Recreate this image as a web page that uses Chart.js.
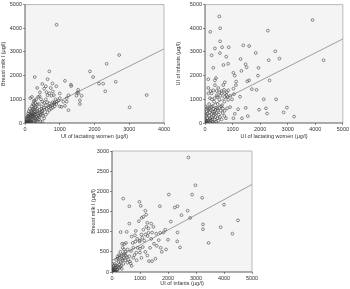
<!DOCTYPE html>
<html>
<head>
<meta charset="utf-8">
<script src="https://cdn.jsdelivr.net/npm/chart.js@4"></script>
<style>
  body { margin: 0; background: #fff; width: 350px; height: 289px; position: relative; overflow: hidden; }
  .box { position: absolute; }
</style>
</head>
<body>
<div class="box" style="left:0;top:0;width:175px;height:145px"><canvas id="c1"></canvas></div>
<div class="box" style="left:175px;top:0;width:175px;height:145px"><canvas id="c2"></canvas></div>
<div class="box" style="left:90px;top:145px;width:175px;height:144px"><canvas id="c3"></canvas></div>
<script>
// breast milk iodine vs UI of lactating women
var milkVsWomen = [
  [910,4150],[2710,2870],[2350,2500],[700,2180],[1870,2180],[1960,1940],[280,1940],[1150,1780],[650,1850],
  [2610,1740],[2130,1660],[2250,1660],[2310,1340],[3010,660],[3500,1180],[1580,960],[1250,540],[1580,800],
  [1330,1560],[1320,1620],[1530,1400],[1500,1280],[1480,1150],[1630,1150],[1540,1260],[1200,1050],[1250,1170],
  [1000,1250],[900,1550],[790,1670],[800,1330],[830,1180],[600,1550],[500,1650],[350,1480],[430,1300],
  [420,1130],[380,1100],[550,1450],[620,1300],[700,1250],[740,1480],[650,1170],[760,1150],[880,1000],
  [920,900],[960,950],[800,880],[850,870],[700,830],[1000,700],[1050,680],[1150,720],[1100,900],[1000,1050],
  [1200,900],[600,750],[540,650],[480,700],[420,560],[350,600],[300,650],[250,750],[220,600],[200,1100],
  [150,1050],[250,920],[300,850],[400,800],[50,50],[80,100],[100,150],[120,80],[150,200],[180,300],[200,250],
  [220,350],[250,400],[270,300],[300,350],[320,450],[350,500],[380,400],[400,300],[250,200],[200,150],
  [150,100],[100,300],[130,400],[180,500],[230,550],[280,500],[330,250],[360,200],[400,150],[420,250],
  [450,350],[480,450],[500,400],[520,300],[550,200],[600,350],[650,450],[700,550],[750,600],[800,650],
  [850,700],[900,800],[60,20],[30,40],[90,60],[110,30],[140,50],[170,120],[20,10],[40,80],[70,180],
  [120,250],[160,350],[210,450],[260,580],[310,700],[350,780],[60,250],[90,400],[110,500],[140,600],
  [200,700],[230,800],[280,950],[320,1000],[80,300],[50,150],[180,50],[260,100],[330,120],[440,80],
  [500,60],[150,0],[100,0],[200,20],[250,30],[300,80],[350,60],[50,0],[10,0],[30,5],[500,500],[560,560],
  [620,600],[680,680],[720,720],[780,760],[840,820],[500,900],[460,1000],[600,1000],[550,850],[640,870],
  [230,300],[280,380],[190,420],[160,250],[140,320],[260,250],[300,200],[380,320],[430,420],[470,600]
];
var lineMilkWomen = [[0, 200], [4000, 3130]];

// UI of infants vs UI of lactating women
var infantsVsWomen = [
  [520,4500],[3900,4350],[190,3850],[550,4000],[2280,3900],[550,3450],[860,3200],[1390,3280],[1600,3250],
  [620,3200],[360,3150],[2550,3030],[1840,2960],[240,2860],[540,2950],[770,2800],[1290,2700],[2310,2650],
  [2700,2720],[4300,2650],[1470,2480],[1510,2350],[1320,2200],[1940,2330],[300,2330],[670,2450],[840,2500],
  [1030,2120],[1080,2000],[1600,1800],[1530,1760],[2340,1800],[1920,2000],[1700,1430],[1870,1400],
  [2130,1000],[2580,1000],[2970,650],[2850,450],[3230,270],[2210,620],[2250,400],[1960,560],[1480,640],
  [1550,290],[1340,200],[1270,1110],[1050,1220],[1030,1450],[1120,1600],[1130,1750],[840,980],[910,670],
  [1080,390],[1030,200],[1200,580],[360,1800],[400,1900],[120,1850],[120,1480],[300,1380],[430,1170],
  [600,1350],[690,1400],[720,1250],[790,1300],[840,1380],[660,1600],[720,1720],[360,1600],[480,1480],
  [240,1250],[180,1050],[330,900],[460,800],[520,1000],[780,1180],[920,1150],[820,1100],[980,1000],
  [700,900],[620,750],[400,650],[280,700],[150,800],[100,650],[60,500],[200,550],[330,480],[420,420],
  [500,350],[560,520],[640,420],[700,300],[760,200],[600,150],[480,100],[350,150],[250,250],[150,300],
  [80,200],[40,100],[20,50],[100,80],[160,150],[220,100],[280,50],[330,0],[200,0],[120,20],[60,30],
  [30,300],[90,400],[170,450],[240,380],[310,320],[380,250],[450,200],[540,250],[160,600],[230,680],
  [300,600],[380,560],[440,620],[520,650],[580,700],[650,600],[710,520],[800,620],[250,1000],[350,1050],
  [440,1100],[560,1150],[600,1250],[700,1100],[120,1250],[200,1350],[420,1350],[520,1300],[50,350],
  [10,150],[130,100],[190,200],[270,150],[70,0],[400,50],[110,550],[280,470],[360,380],[470,520],[20,700]
];
var lineInfantsWomen = [[0, 600], [5000, 3550]];

// breast milk iodine vs UI of infants
var milkVsInfants = [
  [2730,2840],[2980,2150],[2030,1920],[2860,1920],[3220,1840],[400,1820],[980,1740],[1030,1640],[620,1630],
  [1710,1630],[2240,1600],[2340,1630],[2700,1520],[4000,1670],[2480,1410],[2790,1340],[3250,1180],
  [3250,1060],[3880,1110],[4500,1280],[4300,950],[3450,720],[2340,980],[2330,760],[2430,610],[1930,560],
  [1780,500],[1740,600],[1550,330],[1320,270],[1430,270],[1260,410],[1190,500],[1000,480],[1050,350],
  [880,290],[670,210],[620,390],[1300,1080],[1480,1120],[1260,1220],[1060,1340],[1120,1370],[1190,1520],
  [1220,1420],[960,1260],[1300,970],[1430,980],[1580,950],[1720,970],[1670,790],[1840,980],[1270,890],
  [1190,930],[1050,930],[980,760],[820,910],[830,750],[740,720],[500,720],[620,1200],[310,990],[360,700],
  [430,690],[525,995],[330,410],[400,430],[450,455],[360,330],[310,250],[380,290],[470,290],[525,370],
  [550,230],[240,250],[170,125],[110,65],[50,35],[25,15],[70,50],[140,165],[215,330],[100,20],[60,10],
  [30,60],[10,5],[80,90],[120,110],[150,40],[40,100],[0,30],[20,80],[90,0],[130,0],[180,60],[200,150],
  [260,180],[300,120],[350,80],[270,350],[420,350],[500,400],[580,300],[640,260],[700,150],[760,350],
  [800,420],[870,480],[920,600],[1000,580],[1100,620],[1150,780],[1080,850],[900,820],[760,600],
  [680,520],[560,560],[480,500],[430,560],[380,600],[300,500],[250,420],[200,380],[150,300],[100,200],
  [60,150],[20,200],[200,60],[250,100],[330,160],[400,200],[1400,820],[1500,700],[1360,600],[1600,650],
  [2000,800],[2100,1250],[1900,1050],[1000,780],[1120,1050],[1230,1120],[850,1020],[700,880],[1400,1200]
];
var lineMilkInfants = [[0, 290], [5000, 2170]];

var thousands = [0, 1000, 2000, 3000, 4000, 5000];

function toPts(arr) {
  return arr.map(function (p) { return { x: p[0], y: p[1] }; });
}

var framePlugin = {
  id: 'frame',
  beforeDraw: function (chart) {
    var a = chart.chartArea, ctx = chart.ctx;
    ctx.save();
    ctx.fillStyle = '#f4f4f4';
    ctx.fillRect(a.left, a.top, a.right - a.left, a.bottom - a.top);
    ctx.restore();
  },
  afterDraw: function (chart) {
    var a = chart.chartArea, ctx = chart.ctx;
    ctx.save();
    ctx.lineWidth = 0.8;
    ctx.strokeStyle = '#aaa';
    ctx.beginPath();
    ctx.moveTo(a.left, a.top); ctx.lineTo(a.right, a.top); ctx.lineTo(a.right, a.bottom);
    ctx.stroke();
    ctx.strokeStyle = '#333';
    ctx.beginPath();
    ctx.moveTo(a.left, a.top); ctx.lineTo(a.left, a.bottom); ctx.lineTo(a.right, a.bottom);
    ctx.stroke();
    ctx.restore();
  }
};

function plain(v) { return String(v); }

function makeChart(id, pts, line, xMax, yMax, yStep, xTitle, yTitle, yWidth, xHeight, pad) {
  var font = { family: 'Liberation Sans, Arial, sans-serif', size: 5.5 };
  return new Chart(document.getElementById(id), {
    type: 'scatter',
    data: {
      datasets: [{
        data: toPts(pts),
        pointRadius: 1.4,
        pointBorderWidth: 0.6,
        pointBorderColor: '#444',
        pointBackgroundColor: 'rgba(0,0,0,0)'
      }, {
        type: 'line',
        data: toPts(line),
        borderColor: '#888',
        borderWidth: 0.8,
        pointRadius: 0,
        fill: false
      }]
    },
    options: {
      responsive: true,
      maintainAspectRatio: false,
      animation: false,
      layout: { padding: pad },
      plugins: { legend: { display: false }, tooltip: { enabled: false } },
      scales: {
        x: {
          type: 'linear', min: 0, max: xMax,
          afterBuildTicks: function (s) {
            s.ticks = thousands.filter(function (v) { return v <= xMax; }).map(function (v) { return { value: v }; });
          },
          afterFit: function (s) { s.height = xHeight; },
          grid: { drawOnChartArea: false, tickLength: 2, color: '#444', lineWidth: 0.6 },
          border: { display: false },
          ticks: { font: font, color: '#333', padding: 1, maxRotation: 0, callback: plain },
          title: { display: true, text: xTitle, font: font, color: '#333', padding: { top: 1, bottom: 1 } }
        },
        y: {
          type: 'linear', min: 0, max: yMax,
          ticks: { stepSize: yStep, font: font, color: '#333', padding: 1, callback: plain },
          afterFit: function (s) { s.width = yWidth; },
          grid: { drawOnChartArea: false, tickLength: 2, color: '#444', lineWidth: 0.6 },
          border: { display: false },
          title: { display: true, text: yTitle, font: font, color: '#333', padding: { top: 0, bottom: 1 } }
        }
      }
    },
    plugins: [framePlugin]
  });
}

makeChart('c1', milkVsWomen, lineMilkWomen, 4000, 5000, 1000,
  'UI of lactating women (μg/l)', 'Breast milk I (μg/l)', 25, 18,
  { left: 0, right: 11, top: 4, bottom: 4 });
makeChart('c2', infantsVsWomen, lineInfantsWomen, 5000, 5000, 1000,
  'UI of lactating women (μg/l)', 'UI of infants (μg/l)', 30, 18,
  { left: 0, right: 6, top: 4, bottom: 4 });
makeChart('c3', milkVsInfants, lineMilkInfants, 5000, 3000, 500,
  'UI of infants (μg/l)', 'Breast milk I (μg/l)', 22, 16,
  { left: 0, right: 13, top: 6, bottom: 1 });
</script>
</body>
</html>
